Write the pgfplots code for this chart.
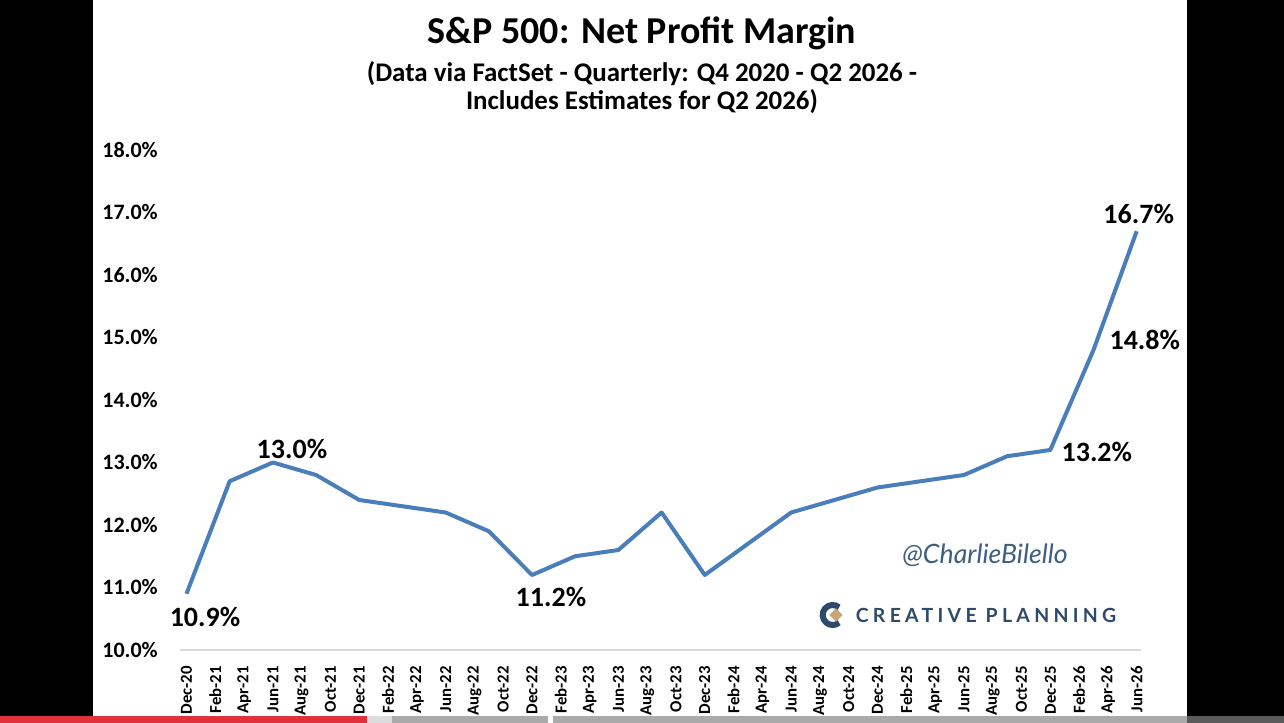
\documentclass[border=0pt]{standalone}
\usepackage{fontspec}
\setmainfont{Carlito}
\newfontfamily\wmfont{Lato}
\newfontfamily\cpfont{Lato}[LetterSpace=22]
\usepackage{pgfplots}
\pgfplotsset{compat=1.18}
\definecolor{linecol}{RGB}{74,126,187}
\definecolor{navy}{RGB}{46,74,107}
\definecolor{tanc}{RGB}{200,167,116}
\definecolor{wm}{RGB}{62,94,128}
\definecolor{axgray}{RGB}{217,217,217}
\definecolor{barred}{RGB}{224,48,60}
\definecolor{barlight}{RGB}{220,220,220}
\definecolor{bargray}{RGB}{170,170,170}
\definecolor{bardark}{RGB}{90,90,90}

\pgfplotstableread{
m v
0 10.9
3 12.7
6 13.0
9 12.8
12 12.4
15 12.3
18 12.2
21 11.9
24 11.2
27 11.5
30 11.6
33 12.2
36 11.2
39 11.7
42 12.2
45 12.4
48 12.6
51 12.7
54 12.8
57 13.1
60 13.2
63 14.8
66 16.7
}\margin

\begin{document}
\begin{tikzpicture}
\fill[white] (0,0) rectangle (963pt,542.25pt);
\fill[black] (0,0) rectangle (69.75pt,542.25pt);
\fill[black] (890.25pt,0) rectangle (963pt,542.25pt);
% progress bar
\fill[barred] (0,0) rectangle (275.25pt,5.25pt);
\fill[barlight] (275.25pt,0) rectangle (294pt,5.25pt);
\fill[bargray] (294pt,0) rectangle (411pt,5.25pt);
\fill[bargray] (414.75pt,0) rectangle (890.25pt,5.25pt);
\fill[bardark] (890.25pt,0) rectangle (963pt,5.25pt);

\node[anchor=base, font=\bfseries\fontsize{28.5}{28.5}\selectfont] at (481.5pt,509.25pt) {S\&P 500: Net Profit Margin};
\node[anchor=base, font=\bfseries\fontsize{20.2}{20.2}\selectfont] at (481.5pt,481pt) {(Data via FactSet - Quarterly: Q4 2020 - Q2 2026 -};
\node[anchor=base, font=\bfseries\fontsize{20.2}{20.2}\selectfont] at (481.5pt,459.75pt) {Includes Estimates for Q2 2026)};

\begin{axis}[at={(135pt,54.75pt)}, anchor=south west, scale only axis,
  width=720.75pt, height=375pt,
  xmin=-0.45, xmax=66.3, ymin=10, ymax=18,
  axis x line*=bottom, axis y line*=left,
  x axis line style={draw=axgray, line width=1.5pt, -},
  y axis line style={draw=none, -},
  major tick length=0pt,
  xtick={0,2,...,66},
  xticklabels={Dec-20,Feb-21,Apr-21,Jun-21,Aug-21,Oct-21,Dec-21,Feb-22,Apr-22,Jun-22,Aug-22,Oct-22,Dec-22,Feb-23,Apr-23,Jun-23,Aug-23,Oct-23,Dec-23,Feb-24,Apr-24,Jun-24,Aug-24,Oct-24,Dec-24,Feb-25,Apr-25,Jun-25,Aug-25,Oct-25,Dec-25,Feb-26,Apr-26,Jun-26},
  ytick={10,11,...,18},
  yticklabels={10.0\%,11.0\%,12.0\%,13.0\%,14.0\%,15.0\%,16.0\%,17.0\%,18.0\%},
  xticklabel style={rotate=90, anchor=east, inner sep=0pt, font=\bfseries\fontsize{12.6}{12.6}\selectfont},
  xticklabel shift=12pt,
  yticklabel style={anchor=east, inner sep=0pt, font=\bfseries\fontsize{16.5}{16.5}\selectfont},
  yticklabel shift=16.5pt,
  clip=false,
]
\addplot[linecol, line width=3pt, line join=round] table[x=m,y=v] {\margin};
\node[font=\bfseries\fontsize{21}{21}\selectfont, inner sep=0pt, xshift=13.9pt, yshift=-17.4pt] at (axis cs:0,10.9) {10.9\%};
\node[font=\bfseries\fontsize{21}{21}\selectfont, inner sep=0pt, xshift=14.3pt, yshift=10.1pt] at (axis cs:6,13.0) {13.0\%};
\node[font=\bfseries\fontsize{21}{21}\selectfont, inner sep=0pt, xshift=14.2pt, yshift=-16.5pt] at (axis cs:24,11.2) {11.2\%};
\node[font=\bfseries\fontsize{21}{21}\selectfont, inner sep=0pt, xshift=34.9pt, yshift=-1.5pt] at (axis cs:60,13.2) {13.2\%};
\node[font=\bfseries\fontsize{21}{21}\selectfont, inner sep=0pt, xshift=38.5pt, yshift=7.5pt] at (axis cs:63,14.8) {14.8\%};
\node[font=\bfseries\fontsize{21}{21}\selectfont, inner sep=0pt, xshift=1.5pt, yshift=12.8pt] at (axis cs:66,16.7) {16.7\%};
\end{axis}

\node[font=\wmfont\itshape\fontsize{20}{20}\selectfont, text=wm, inner sep=0pt] at (738.75pt,126pt) {@CharlieBilello};
\node[font=\cpfont\bfseries\fontsize{14.6}{14.6}\selectfont, text=navy, inner sep=0pt] at (739.5pt,81pt) {CREATIVE PLANNING};
\draw[navy, line width=4.5pt] (624.5pt,81pt) ++(50:7.5pt) arc[start angle=50,end angle=310,radius=7.5pt];
\fill[tanc] (627pt,86pt) -- (632pt,81pt) -- (627pt,76pt) -- (622pt,81pt) -- cycle;
\end{tikzpicture}
\end{document}
